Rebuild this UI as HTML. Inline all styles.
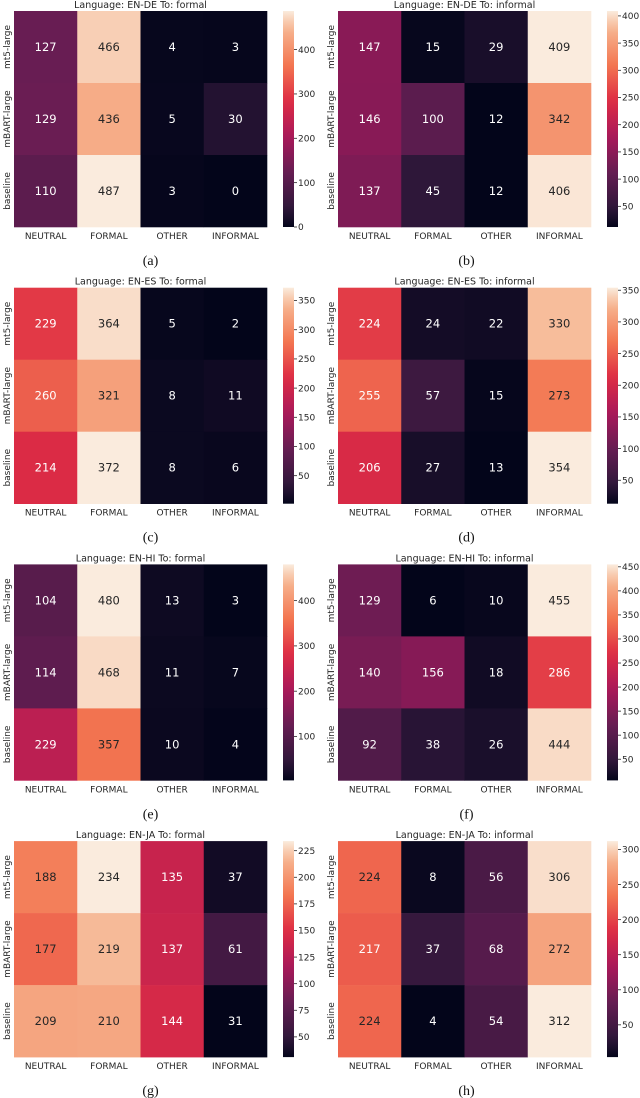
<!DOCTYPE html>
<html><head><meta charset="utf-8"><style>
html,body{margin:0;padding:0;background:#fff;}
svg{display:block;}
</style></head><body>
<svg id="fig" width="640" height="1098" xmlns="http://www.w3.org/2000/svg"></svg>
<script>
const rowsLabels = ["mt5-large","mBART-large","baseline"];
const colLabels = ["NEUTRAL","FORMAL","OTHER","INFORMAL"];
const titles = ["Language: EN-DE To: formal","Language: EN-DE To: informal","Language: EN-ES To: formal","Language: EN-ES To: informal","Language: EN-HI To: formal","Language: EN-HI To: informal","Language: EN-JA To: formal","Language: EN-JA To: informal"];
const captions = ["(a)","(b)","(c)","(d)","(e)","(f)","(g)","(h)"];
const valsA = [[127,466,4,3],[129,436,5,30],[110,487,3,0]];
const valsB = [[147,15,29,409],[146,100,12,342],[137,45,12,406]];
const valsC = [[229,364,5,2],[260,321,8,11],[214,372,8,6]];
const valsD = [[224,24,22,330],[255,57,15,273],[206,27,13,354]];
const valsE = [[104,480,13,3],[114,468,11,7],[229,357,10,4]];
const valsF = [[129,6,10,455],[140,156,18,286],[92,38,26,444]];
const valsG = [[188,234,135,37],[177,219,137,61],[209,210,144,31]];
const valsH = [[224,8,56,306],[217,37,68,272],[224,4,54,312]];
const ticksA = [0,100,200,300,400];
const ticksB = [50,100,150,200,250,300,350,400];
const ticksC = [50,100,150,200,250,300,350];
const ticksD = [50,100,150,200,250,300,350];
const ticksE = [100,200,300,400];
const ticksF = [50,100,150,200,250,300,350,400,450];
const ticksG = [50,75,100,125,150,175,200,225];
const ticksH = [50,100,150,200,250,300];
const allVals=[valsA,valsB,valsC,valsD,valsE,valsF,valsG,valsH];
const allTicks=[ticksA,ticksB,ticksC,ticksD,ticksE,ticksF,ticksG,ticksH];

const stops=[[0,"#03051a"],[1/12,"#2e1739"],[3/12,"#641d52"],[5/12,"#a8185a"],[7/12,"#de2c44"],[9/12,"#f37651"],[11/12,"#f6b48f"],[1,"#faebdd"]];
function hex(h){return [1,3,5].map(i=>parseInt(h.substr(i,2),16));}
function cmap(t){t=Math.max(0,Math.min(1,t));for(let i=1;i<stops.length;i++){if(t<=stops[i][0]){const a=hex(stops[i-1][1]),b=hex(stops[i][1]);const f=(t-stops[i-1][0])/(stops[i][0]-stops[i-1][0]);const c=a.map((v,k)=>Math.round(v+(b[k]-v)*f));return {s:`rgb(${c.join(",")})`,c:c};}}return {s:stops[7][1],c:hex(stops[7][1])};}
const NS="http://www.w3.org/2000/svg";
const svg=document.getElementById("fig");
function mk(tag,attrs,parent){const e=document.createElementNS(NS,tag);for(const k in attrs)e.setAttribute(k,attrs[k]);(parent||svg).appendChild(e);return e;}
const defs=mk("defs",{});
const grad=mk("linearGradient",{id:"rk",x1:"0",y1:"1",x2:"0",y2:"0"},defs);
for(let i=0;i<=20;i++){mk("stop",{offset:i/20,"stop-color":cmap(i/20).s},grad);}

const FONT='"DejaVu Sans","Liberation Sans",sans-serif';
for(let p=0;p<8;p++){
  const vals=allVals[p],ticks=allTicks[p];
  const col=p%2,row=Math.floor(p/2);
  const x0=col?338:14, w=253, y0=11+row*276.7, h=216;
  const cbx=col?607:283, cbw=11;
  const g=mk("g",{});
  
  
  const flat=vals.flat();const vmin=Math.min(...flat),vmax=Math.max(...flat);
  const xS=c=>x0+c*w/4, yS=r=>y0+r*h/3;
  const t=mk("text",{x:x0+w/2,y:y0-3,"text-anchor":"middle","font-size":"9.5","font-family":FONT,fill:"#262626"},g);
  t.textContent=titles[p];
  
  
  for(let r=0;r<3;r++)for(let c=0;c<4;c++){
    const v=vals[r][c];const cc=cmap((v-vmin)/(vmax-vmin));
    const rect=mk("rect",{x:xS(c),y:yS(r),width:w/4+0.3,height:h/3+0.3,fill:cc.s},g);
    
    
    const lum=(0.299*cc.c[0]+0.587*cc.c[1]+0.114*cc.c[2]);
    const tx=mk("text",{x:xS(c)+w/8,y:yS(r)+h/6+4,"text-anchor":"middle","font-size":"11.5","font-family":FONT,fill:lum>140?"#262626":"#ffffff"},g);
    tx.textContent=v;
    
    
  }
  for(let r=0;r<3;r++){
    const cy=yS(r)+h/6;
    const tl=mk("text",{x:0,y:0,transform:`translate(${x0-4},${cy}) rotate(-90)`,"text-anchor":"middle","font-size":"9","font-family":FONT,fill:"#262626"},g);
    tl.textContent=rowsLabels[r];
    
    
  }
  for(let c=0;c<4;c++){
    const tl=mk("text",{x:xS(c)+w/8,y:y0+h+12,"text-anchor":"middle","font-size":"9","font-family":FONT,fill:"#262626"},g);
    tl.textContent=colLabels[c];
    
    
  }
  const cb=mk("rect",{x:cbx,y:y0,width:cbw,height:h,fill:"url(#rk)"},g);
  
  
  for(const tk of ticks){
    const ty=y0+h-(tk-vmin)/(vmax-vmin)*h;
    mk("line",{x1:cbx+cbw,x2:cbx+cbw+3,y1:ty,y2:ty,stroke:"#262626","stroke-width":"0.8"},g);
    const tl=mk("text",{x:cbx+cbw+4,y:ty+3.2,"font-size":"9","font-family":FONT,fill:"#262626"},g);
    tl.textContent=tk;
    
    
  }
  const cap=mk("text",{x:x0+w/2+(col?2:10),y:y0+h+38,"text-anchor":"middle","font-size":"14","font-family":'"Liberation Serif",serif',fill:"#111"},g);
  cap.textContent=captions[p];
  
  
}
</script>
</body></html>
